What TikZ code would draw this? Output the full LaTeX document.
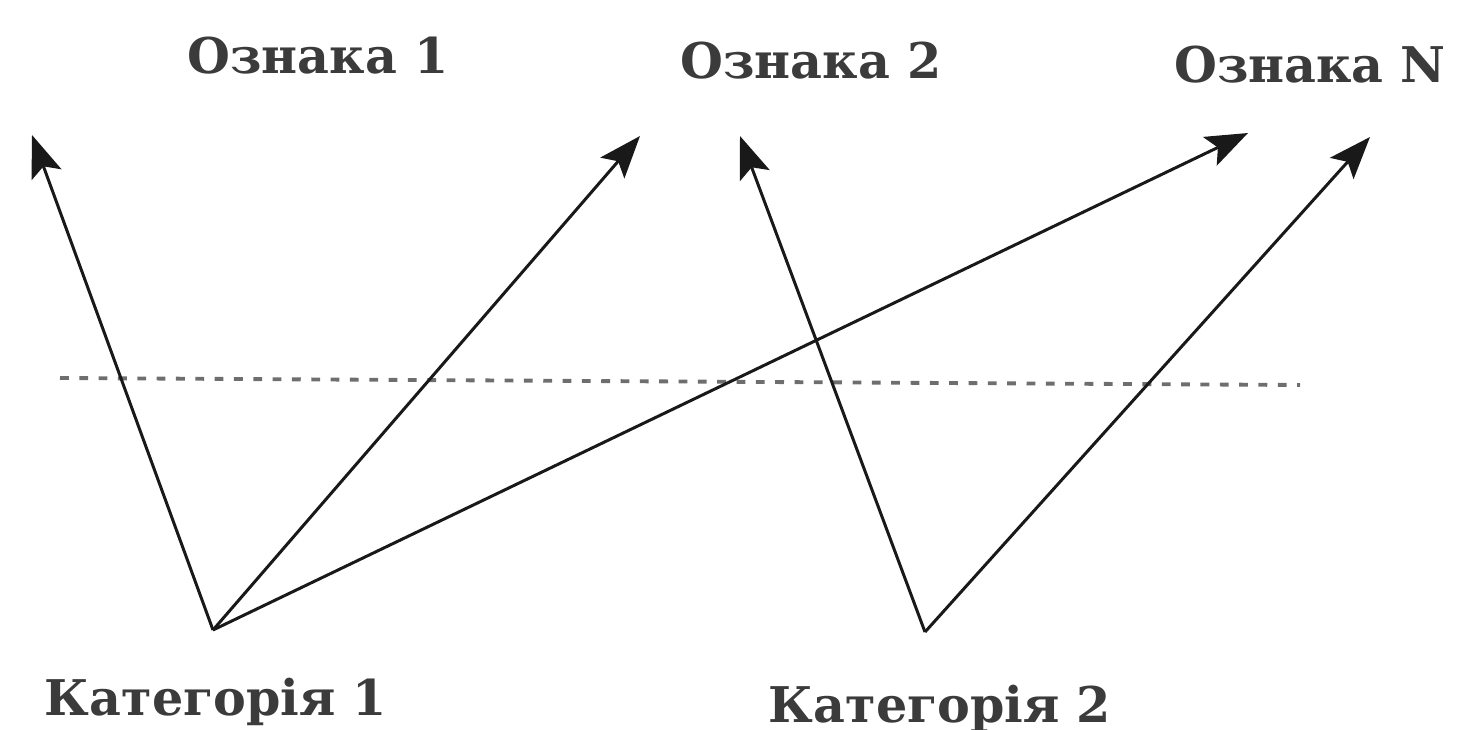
\documentclass[tikz,border=0pt]{standalone}
\usepackage{fontspec}
\setmainfont{DejaVu Serif}
\usepackage{tikz}
\usetikzlibrary{arrows.meta, positioning, calc}
\definecolor{mydark}{RGB}{25,25,25}
\definecolor{mygray}{RGB}{110,110,110}
\tikzset{
  label/.style={font=\fontsize{14}{16}\selectfont\bfseries, color=mydark!85,
    inner sep=0pt, anchor=base},
  arrow/.style={-{Stealth[length=12pt, width=9pt, inset=2.5pt]}, line width=0.85pt, color=mydark},
  sepline/.style={line width=1.1pt, color=mygray, dash pattern=on 2.5pt off 3pt}
}

\begin{document}
\begin{tikzpicture}
  \useasboundingbox (0,0) rectangle (14.57,7.29);

  % Feature labels on top
  \node[label] (feat1) at (3.18,6.56) {Ознака 1};
  \node[label] (feat2) at (8.11,6.51) {Ознака 2};
  \node[label] (featN) at (13.10,6.47) {Ознака N};

  % Category labels at the bottom
  \node[label] (cat1) at (2.16,0.14) {Категорія 1};
  \node[label] (cat2) at (9.40,0.07) {Категорія 2};

  % Vertices and arrow tips
  \coordinate (c1) at (2.13,0.99);
  \coordinate (c2) at (9.25,0.97);
  \coordinate (t1) at (0.32,5.94);
  \coordinate (t2) at (6.40,5.93);
  \coordinate (t3) at (12.48,5.96);
  \coordinate (t4) at (7.40,5.93);
  \coordinate (t5) at (13.70,5.92);

  % Dashed threshold line
  \coordinate (dl) at (0.60,3.51);
  \coordinate (dr) at (13.00,3.44);
  \draw[sepline] (dl) -- (dr);

  % Arrows from categories to features
  \draw[arrow] (c1) -- (t1);
  \draw[arrow] (c1) -- (t2);
  \draw[arrow] (c1) -- (t3);
  \draw[arrow] (c2) -- (t4);
  \draw[arrow] (c2) -- (t5);
\end{tikzpicture}
\end{document}
